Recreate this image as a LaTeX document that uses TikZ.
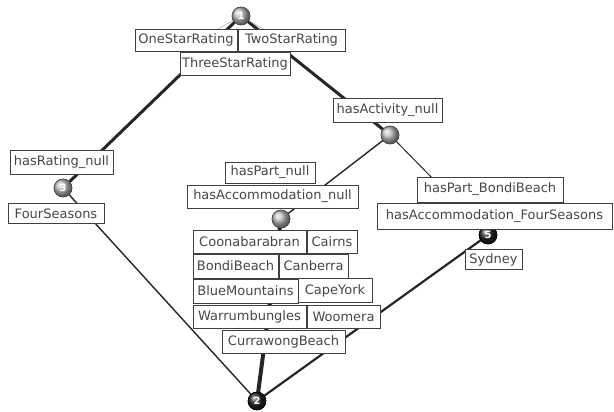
\documentclass[tikz,border=0pt]{standalone}
\usepackage{fontspec}
\setmainfont{DejaVu Sans}
\begin{document}
\begin{tikzpicture}[x=1pt,y=-1pt,
  lbl/.style={draw=black!75, fill=white, line width=0.9pt, inner sep=0pt,
    text=black!72, font=\fontsize{13}{13}\selectfont},
  gnode/.style={circle, minimum size=18pt, inner sep=0pt, shading=ball,
    ball color=gray!50, draw=gray!55!black, line width=0.5pt,
    text=white, font=\fontsize{10}{10}\selectfont\bfseries},
  dnode/.style={gnode, ball color=black!85, draw=black},
  faint/.style={draw=gray!60, line width=0.6pt},
  edge/.style={draw=black!85, line cap=round}]
\useasboundingbox (0,0) rectangle (614,412);
% concept nodes
\node[gnode] (n1) at (241,16) {1};
\node[gnode] (nact) at (390,135) {};
\node[gnode] (n3) at (63,188) {3};
\node[gnode] (nmid) at (281,219) {};
\node[dnode] (n5) at (488,235) {5};
\node[dnode] (n2) at (257,401) {2};
% lattice edges
\draw[edge, line width=3pt] (n1) -- (n3);
\draw[edge, line width=3pt] (n1) -- (nact);
\draw[edge, line width=1.4pt] (n3) -- (n2);
\draw[edge, line width=1.4pt] (nact) -- (nmid);
\draw[edge, line width=1pt] (nact) -- (n5);
\draw[edge, line width=4pt] (nmid) -- (n2);
\draw[edge, line width=2.2pt] (n5) -- (n2);
% faint label connectors
\coordinate (oneT) at (216,30);
\coordinate (twoT) at (265,30);
\draw[faint] (n1) -- (oneT);
\draw[faint] (n1) -- (twoT);
% redraw nodes over edges
\node[gnode] at (n1) {1};
\node[gnode] at (nact) {};
\node[gnode] at (n3) {3};
\node[gnode] at (nmid) {};
\node[dnode] at (n5) {5};
\node[dnode] at (n2) {2};
% label boxes
\node[lbl, minimum width=102, minimum height=22] (one) at (186,40) {OneStarRating};
\node[lbl, minimum width=107, minimum height=22] (two) at (291.5,40) {TwoStarRating};
\node[lbl, minimum width=110, minimum height=23] (three) at (235,63.5) {ThreeStarRating};
\node[lbl, minimum width=109, minimum height=24] (act) at (387.5,110) {hasActivity\_null};
\node[lbl, minimum width=103, minimum height=24] (rat) at (61.5,162) {hasRating\_null};
\node[lbl, minimum width=96, minimum height=20] (four) at (56,213.5) {FourSeasons};
\node[lbl, minimum width=90, minimum height=21] (part) at (270,172.5) {hasPart\_null};
\node[lbl, minimum width=171, minimum height=23] (acc) at (272.5,196.5) {hasAccommodation\_null};
\node[lbl, minimum width=146, minimum height=25] (pbb) at (490,189.5) {hasPart\_BondiBeach};
\node[lbl, minimum width=235, minimum height=26] (afs) at (494.5,216.5) {hasAccommodation\_FourSeasons};
\node[lbl, minimum width=57, minimum height=20] (syd) at (493.5,259.5) {Sydney};
\node[lbl, minimum width=113, minimum height=23] (coo) at (249.5,241.5) {Coonabarabran};
\node[lbl, minimum width=50, minimum height=23] (cai) at (332,241.5) {Cairns};
\node[lbl, minimum width=85, minimum height=24] (bon) at (235.5,266) {BondiBeach};
\node[lbl, minimum width=69, minimum height=24] (can) at (313.5,266) {Canberra};
\node[lbl, minimum width=105, minimum height=24] (blu) at (245.5,291) {BlueMountains};
\node[lbl, minimum width=74, minimum height=24] (cap) at (335,290.5) {CapeYork};
\node[lbl, minimum width=113, minimum height=23] (war) at (249.5,316.5) {Warrumbungles};
\node[lbl, minimum width=73, minimum height=23] (woo) at (343.5,316.5) {Woomera};
\node[lbl, minimum width=123, minimum height=23] (cur) at (283.5,341.5) {CurrawongBeach};
\end{tikzpicture}
\end{document}
